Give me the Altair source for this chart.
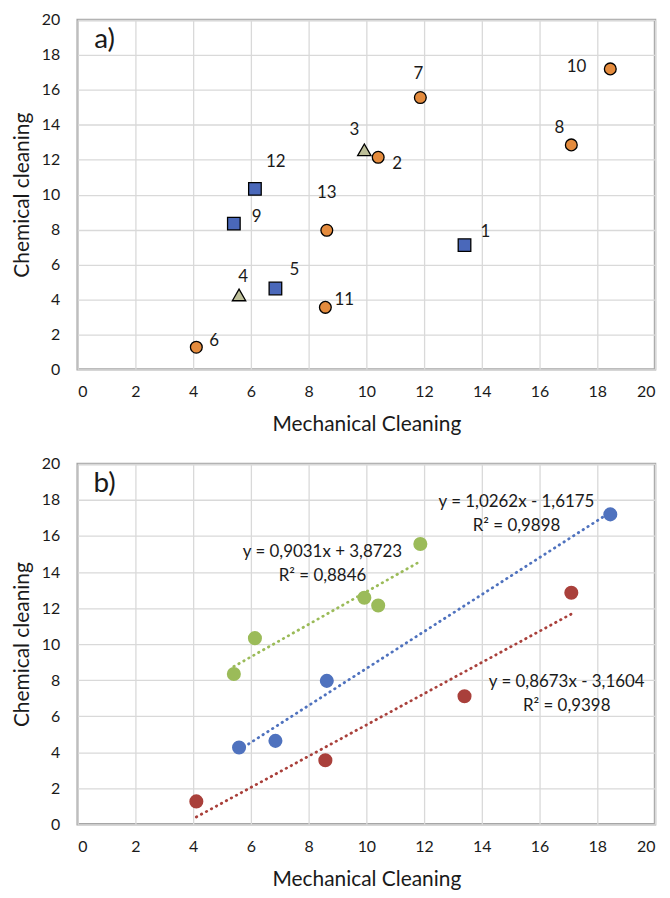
import altair as alt
import pandas as pd

# ---------------- data ----------------
point_ids = [1, 2, 3, 4, 5, 6, 7, 8, 9, 10, 11, 12, 13]
mechanical = [13.40, 10.41, 9.93, 5.59, 6.85, 4.11, 11.87, 17.10, 5.41, 18.45, 8.58, 6.14, 8.63]
chemical = [7.11, 12.14, 12.57, 4.26, 4.63, 1.27, 15.56, 12.85, 8.34, 17.20, 3.55, 10.33, 7.96]
marker_group = ["square", "circle", "triangle", "triangle", "square", "circle", "circle",
                "circle", "square", "circle", "circle", "square", "circle"]
fit_group = ["C", "A", "A", "B", "B", "C", "A", "C", "A", "B", "C", "A", "B"]

# trend line equations (as printed in panel b)
fit_names = ["A", "B", "C"]
fit_slope = [0.9031, 1.0262, 0.8673]
fit_intercept = [3.8723, -1.6175, -3.1604]
fit_eq = ["y = 0,9031x + 3,8723", "y = 1,0262x - 1,6175", "y = 0,8673x - 3,1604"]
fit_r2 = ["R² = 0,8846", "R² = 0,9898", "R² = 0,9398"]
# annotation anchors (data units)
eq_x = [8.48, 15.2, 16.94]
eq_y = [15.1, 17.86, 7.87]
r2_y = [13.8, 16.57, 6.58]

# ---------------- styles ----------------
FONT = "Lato"
TXT = "#1A1A1A"
label_offsets = {1: (21, -13), 2: (19, 7), 3: (-10, -20), 4: (4, -18), 5: (19, -19),
                 6: (18, -6), 7: (-2, -24), 8: (-12, -17), 9: (23, -7), 10: (-34, -2),
                 11: (19, -7), 12: (21, -27), 13: (0, -37)}
W = 580
H_TOP = 351
H_BOT = 362

df = pd.DataFrame({"id": point_ids, "mech": mechanical, "chem": chemical,
                   "marker": marker_group, "fit": fit_group})
df["label"] = df["id"].astype(str)

# trend line endpoints from each group's x extent and the printed equation
rows = []
for name, s, b in zip(fit_names, fit_slope, fit_intercept):
    sub = df[df["fit"] == name]
    for xv in (sub["mech"].min(), sub["mech"].max()):
        rows.append({"fit": name, "mech": xv, "chem": s * xv + b})
trend = pd.DataFrame(rows)

ann = pd.DataFrame({"fit": fit_names, "x": eq_x, "y": eq_y, "y2": r2_y,
                    "eq": fit_eq, "r2": fit_r2})

xs = alt.Scale(domain=[0, 20], nice=False)
ys = alt.Scale(domain=[0, 20], nice=False)
tick_vals = list(range(0, 21, 2))
x_axis = alt.Axis(title="Mechanical Cleaning", values=tick_vals, labelOverlap=False)
y_axis = alt.Axis(title="Chemical cleaning", values=tick_vals, labelOverlap=False)


def xenc(field="mech"):
    return alt.X(f"{field}:Q", scale=xs, axis=x_axis)


def yenc(field="chem"):
    return alt.Y(f"{field}:Q", scale=ys, axis=y_axis)


# ---------------- panel a ----------------
pts_a = alt.Chart(df).mark_point(filled=True, stroke="black", strokeWidth=1.3, opacity=1).encode(
    x=xenc(), y=yenc(),
    fill=alt.Color("marker:N", legend=None,
                   scale=alt.Scale(domain=["circle", "square", "triangle"],
                                   range=["#E48B3D", "#4A68BA", "#BDBF98"])),
    shape=alt.Shape("marker:N", legend=None,
                    scale=alt.Scale(domain=["circle", "square", "triangle"],
                                    range=["circle", "square", "triangle-up"])),
    size=alt.Size("marker:N", legend=None,
                  scale=alt.Scale(domain=["circle", "square", "triangle"],
                                  range=[140, 180, 125])),
)

label_layers = []
for pid in point_ids:
    dx, dy = label_offsets[pid]
    label_layers.append(
        alt.Chart(df).transform_filter(alt.datum.id == pid).mark_text(
            dx=dx, dy=dy, fontSize=17, font=FONT, color=TXT, align="center", baseline="middle"
        ).encode(x=xenc(), y=yenc(), text="label:N")
    )

panel_tag = pd.DataFrame({"x": [0.93], "y": [18.86], "a": ["a)"], "b": ["b)"]})
tag_a = alt.Chart(panel_tag).mark_text(fontSize=28, font=FONT, color=TXT, align="center",
                                       baseline="middle").encode(
    x=xenc("x"), y=yenc("y"), text="a:N")

top = alt.layer(pts_a, *label_layers, tag_a).properties(width=W, height=H_TOP)

# ---------------- panel b ----------------
fit_colors = alt.Scale(domain=fit_names, range=["#9BBB59", "#4F72BE", "#A9403B"])

lines_b = alt.Chart(trend).mark_line(strokeWidth=2.8, strokeDash=[0.5, 5.2], strokeCap="round").encode(
    x=xenc(), y=yenc(), color=alt.Color("fit:N", scale=fit_colors, legend=None), detail="fit:N")

pts_b = alt.Chart(df).mark_circle(size=200, opacity=1).encode(
    x=xenc(), y=yenc(), color=alt.Color("fit:N", scale=fit_colors, legend=None))

eq_text = alt.Chart(ann).mark_text(fontSize=17, font=FONT, color=TXT, align="center",
                                   baseline="middle").encode(
    x=xenc("x"), y=yenc("y"), text="eq:N")
r2_text = alt.Chart(ann).mark_text(fontSize=17, font=FONT, color=TXT, align="center",
                                   baseline="middle").encode(
    x=xenc("x"), y=yenc("y2"), text="r2:N")

tag_b = alt.Chart(panel_tag).mark_text(fontSize=28, font=FONT, color=TXT, align="center",
                                       baseline="middle").encode(
    x=xenc("x"), y=yenc("y"), text="b:N")

bottom = alt.layer(lines_b, pts_b, eq_text, r2_text, tag_b).properties(width=W, height=H_BOT)

chart = alt.vconcat(top, bottom, spacing=18).properties(
    padding={"left": 2, "top": 0, "right": 5, "bottom": 0},
    background="white",
).configure_view(
    stroke="#A6A6A6", strokeWidth=2.5
).configure_axis(
    grid=True, gridColor="#D9D9D9", gridWidth=1.3,
    domain=False, ticks=False, labelOverlap=False,
    labelFont=FONT, labelFontSize=16, labelColor=TXT,
    titleFont=FONT, titleFontSize=21, titleFontWeight="normal", titleColor=TXT,
).configure_axisX(
    labelPadding=14, titlePadding=14,
).configure_axisY(
    labelPadding=18, titlePadding=9,
).configure_text(font=FONT)

chart.save("out.html", embed_options={"renderer": "svg", "actions": False})
